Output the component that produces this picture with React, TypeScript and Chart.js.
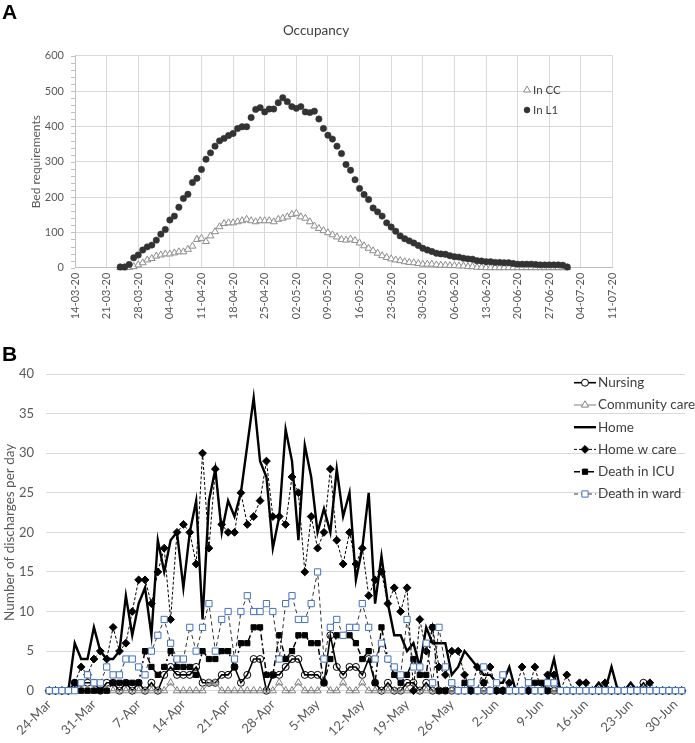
import React, { useEffect, useRef } from "react";
import { Chart, registerables } from "chart.js";
Chart.register(...registerables);

const FONT = "Lato, 'Noto Sans', sans-serif";
const TICK_COLOR = "#595959";
const TEXT_COLOR = "#404040";
const GRID = "#d9d9d9";

// ---------------- Panel A: Occupancy ----------------
const A_TICKS = [
  "14-03-20", "21-03-20", "28-03-20", "04-04-20", "11-04-20", "18-04-20",
  "25-04-20", "02-05-20", "09-05-20", "16-05-20", "23-05-20", "30-05-20",
  "06-06-20", "13-06-20", "20-06-20", "27-06-20", "04-07-20", "11-07-20",
];
// first data day (24-03-20) counted in days from 14-03-20
const A_FIRST_DAY = 10;
const A_IN_L1 = [
  2, 2, 9, 28, 36, 50, 59, 64, 78, 95,
  108, 135, 146, 171, 196, 208, 241, 253, 278, 307,
  325, 344, 359, 366, 374, 380, 394, 399, 399, 425,
  448, 453, 441, 449, 449, 467, 481, 470, 456, 451,
  456, 441, 439, 443, 421, 394, 375, 364, 344, 323,
  292, 276, 249, 224, 207, 193, 169, 158, 146, 127,
  115, 103, 90, 82, 76, 70, 63, 55, 50, 46,
  41, 39, 38, 34, 31, 30, 27, 25, 24, 20,
  19, 17, 17, 15, 15, 14, 14, 12, 10, 10,
  10, 10, 9, 8, 8, 8, 8, 8, 7, 2,
];
const A_IN_CC = [
  0, 0, 1, 3, 8, 14, 22, 26, 33, 36,
  39, 39, 42, 45, 45, 52, 61, 80, 83, 74,
  90, 102, 116, 125, 127, 127, 130, 133, 137, 133,
  130, 133, 133, 133, 130, 137, 140, 144, 151, 154,
  144, 140, 130, 118, 111, 105, 99, 93, 87, 80,
  78, 81, 77, 70, 62, 55, 48, 41, 34, 29,
  25, 22, 20, 17, 15, 14, 12, 10, 10, 10,
  8, 7, 7, 6, 6, 5, 5, 3, 3, 1,
  1, 0, 0, 0, 0, 0, 0, 0, 0, 0,
  0, 0, 0, 0, 0, 0, 0, 0, 0, 0,
];

// ---------------- Panel B: discharges ----------------
const B_DAYS = [
  "24-Mar", "25-Mar", "26-Mar", "27-Mar", "28-Mar", "29-Mar", "30-Mar", "31-Mar",
  "1-Apr", "2-Apr", "3-Apr", "4-Apr", "5-Apr", "6-Apr", "7-Apr", "8-Apr", "9-Apr", "10-Apr",
  "11-Apr", "12-Apr", "13-Apr", "14-Apr", "15-Apr", "16-Apr", "17-Apr", "18-Apr", "19-Apr", "20-Apr",
  "21-Apr", "22-Apr", "23-Apr", "24-Apr", "25-Apr", "26-Apr", "27-Apr", "28-Apr", "29-Apr", "30-Apr",
  "1-May", "2-May", "3-May", "4-May", "5-May", "6-May", "7-May", "8-May", "9-May", "10-May",
  "11-May", "12-May", "13-May", "14-May", "15-May", "16-May", "17-May", "18-May", "19-May", "20-May",
  "21-May", "22-May", "23-May", "24-May", "25-May", "26-May", "27-May", "28-May", "29-May", "30-May", "31-May",
  "1-Jun", "2-Jun", "3-Jun", "4-Jun", "5-Jun", "6-Jun", "7-Jun", "8-Jun", "9-Jun", "10-Jun",
  "11-Jun", "12-Jun", "13-Jun", "14-Jun", "15-Jun", "16-Jun", "17-Jun", "18-Jun", "19-Jun", "20-Jun",
  "21-Jun", "22-Jun", "23-Jun", "24-Jun", "25-Jun", "26-Jun", "27-Jun", "28-Jun", "29-Jun", "30-Jun",
  "1-Jul",
];
const B_TICKS = [
  "24-Mar", "31-Mar", "7-Apr", "14-Apr", "21-Apr", "28-Apr", "5-May", "12-May",
  "19-May", "26-May", "2-Jun", "9-Jun", "16-Jun", "23-Jun", "30-Jun",
];
const B_NURSING = [
  0, 0, 0, 0, 1, 1, 1, 1, 0, 1,
  1, 0, 1, 0, 1, 0, 1, 0, 2, 3,
  2, 2, 2, 3, 1, 1, 1, 2, 2, 3,
  1, 2, 4, 4, 0, 2, 2, 3, 4, 4,
  2, 2, 2, 1, 7, 3, 2, 3, 3, 2,
  4, 1, 0, 1, 0, 0, 1, 1, 0, 1,
  0, 0, 0, 0, 0, 0, 0, 0, 0, 0,
  0, 0, 0, 0, 0, 0, 0, 0, 0, 0,
  0, 0, 0, 0, 0, 0, 0, 0, 0, 0,
  0, 0, 0, 1, 0, 0, 0, 0, 0, 0,
];
const B_COMMUNITY = [
  0, 0, 0, 0, 0, 0, 0, 0, 0, 0,
  0, 0, 0, 0, 0, 0, 0, 0, 0, 1,
  0, 0, 0, 0, 0, 1, 1, 0, 0, 0,
  0, 0, 0, 0, 0, 0, 1, 0, 0, 1,
  0, 0, 0, 1, 0, 0, 1, 0, 0, 1,
  0, 0, 0, 0, 0, 0, 0, 0, 0, 0,
  0, 0, 0, 0, 0, 0, 0, 0, 0, 0,
  0, 0, 0, 0, 0, 0, 0, 0, 0, 0,
  0, 0, 0, 0, 0, 0, 0, 0, 0, 0,
  0, 0, 0, 0, 0, 0, 0, 0, 0, 0,
];
const B_HOME = [
  0, 0, 0, 0, 6, 4, 4, 8, 5, 4,
  4, 5, 12, 7, 11, 13, 7, 19, 15, 19,
  20, 13, 20, 24, 9, 24, 28, 20, 24, 22,
  25, 31, 37, 29, 27, 18, 22, 33, 29, 19,
  31, 27, 20, 23, 20, 28, 22, 25, 14, 18,
  25, 11, 17, 11, 7, 7, 5, 6, 3, 8,
  6, 6, 6, 2, 3, 5, 4, 3, 2, 2,
  1, 1, 3, 0, 0, 0, 0, 0, 1, 4,
  0, 0, 0, 0, 0, 0, 1, 0, 3, 0,
  0, 1, 0, 0, 0, 0, 0, 0, 0, 0,
];
const B_HOME_CARE = [
  0, 0, 0, 0, 1, 3, 2, 4, 5, 4,
  8, 5, 6, 10, 14, 14, 11, 15, 18, 9,
  20, 21, 20, 16, 30, 18, 28, 21, 20, 20,
  25, 21, 22, 24, 29, 22, 22, 21, 27, 25,
  15, 22, 18, 20, 28, 19, 16, 20, 16, 18,
  12, 14, 15, 11, 13, 10, 13, 0, 9, 5,
  8, 3, 2, 5, 5, 2, 0, 3, 1, 3,
  0, 0, 1, 0, 3, 0, 3, 0, 2, 2,
  0, 2, 0, 1, 1, 0, 0, 1, 0, 0,
  0, 0, 0, 0, 1, 0, 0, 0, 0, 0,
];
const B_DEATH_ICU = [
  0, 0, 0, 0, 1, 0, 0, 0, 0, 0,
  1, 1, 1, 1, 1, 5, 3, 2, 3, 5,
  3, 3, 3, 2, 5, 4, 4, 5, 5, 3,
  6, 6, 8, 8, 2, 2, 7, 4, 5, 7,
  7, 6, 6, 1, 4, 7, 7, 7, 6, 4,
  5, 1, 8, 4, 2, 1, 2, 4, 2, 2,
  8, 0, 0, 1, 0, 1, 0, 0, 1, 0,
  0, 0, 0, 0, 0, 1, 1, 1, 0, 1,
  0, 0, 0, 0, 0, 0, 0, 0, 0, 0,
  0, 0, 0, 0, 0, 0, 0, 0, 0, 0,
];
const B_DEATH_WARD = [
  0, 0, 0, 0, 0, 1, 2, 1, 1, 3,
  2, 2, 4, 4, 3, 2, 5, 7, 9, 6,
  4, 4, 8, 5, 8, 11, 5, 9, 10, 4,
  10, 12, 10, 10, 11, 10, 4, 11, 12, 9,
  9, 11, 15, 4, 8, 9, 7, 8, 8, 11,
  8, 4, 6, 4, 3, 2, 9, 3, 3, 6,
  1, 8, 3, 1, 0, 0, 1, 0, 3, 0,
  1, 2, 0, 0, 0, 1, 0, 0, 1, 1,
  0, 0, 0, 0, 0, 0, 0, 0, 0, 0,
  0, 0, 0, 0, 0, 0, 0, 0, 0, 0,
];

type Series = {
  label: string;
  data: number[];
  line: string;
  width: number;
  dash: number[];
  marker: string | false;
  radius: number;
  fill: string;
  stroke: string;
};

const B_SERIES: Series[] = [
  { label: "Nursing", data: B_NURSING, line: "#000", width: 1.6, dash: [], marker: "circle", radius: 3.5, fill: "rgba(0,0,0,0)", stroke: "#000" },
  { label: "Community care", data: B_COMMUNITY, line: "#808080", width: 1, dash: [], marker: "triangle", radius: 4.2, fill: "rgba(0,0,0,0)", stroke: "#808080" },
  { label: "Home", data: B_HOME, line: "#000", width: 2.4, dash: [], marker: false, radius: 0, fill: "#000", stroke: "#000" },
  { label: "Home w care", data: B_HOME_CARE, line: "#000", width: 1, dash: [3, 2], marker: "rectRot", radius: 3.9, fill: "#000", stroke: "#000" },
  { label: "Death in ICU", data: B_DEATH_ICU, line: "#000", width: 1.5, dash: [6, 3, 2, 3], marker: "rect", radius: 3.7, fill: "#000", stroke: "#000" },
  { label: "Death in ward", data: B_DEATH_WARD, line: "#333", width: 1, dash: [4, 3], marker: "rect", radius: 4.4, fill: "#fff", stroke: "#4472c4" },
];

function drawMarker(ctx: CanvasRenderingContext2D, style: string, x: number, y: number, r: number, fill: string, stroke: string, lw: number) {
  ctx.save();
  ctx.setLineDash([]);
  ctx.fillStyle = fill;
  ctx.strokeStyle = stroke;
  ctx.lineWidth = lw;
  ctx.beginPath();
  if (style === "circle") {
    ctx.arc(x, y, r, 0, Math.PI * 2);
  } else if (style === "triangle") {
    let rad = 0;
    ctx.moveTo(x + Math.sin(rad) * r, y - Math.cos(rad) * r);
    rad += (2 * Math.PI) / 3;
    ctx.lineTo(x + Math.sin(rad) * r, y - Math.cos(rad) * r);
    rad += (2 * Math.PI) / 3;
    ctx.lineTo(x + Math.sin(rad) * r, y - Math.cos(rad) * r);
    ctx.closePath();
  } else if (style === "rectRot") {
    ctx.moveTo(x, y - r);
    ctx.lineTo(x + r, y);
    ctx.lineTo(x, y + r);
    ctx.lineTo(x - r, y);
    ctx.closePath();
  } else if (style === "rect") {
    const s = r * Math.SQRT1_2;
    ctx.rect(x - s, y - s, 2 * s, 2 * s);
  }
  ctx.fill();
  ctx.stroke();
  ctx.restore();
}

const panelAText = {
  id: "panelAText",
  afterDraw(chart: any) {
    const ctx: CanvasRenderingContext2D = chart.ctx;
    const ca = chart.chartArea;
    const ys = chart.scales.y;
    ctx.save();
    ctx.strokeStyle = "#bfbfbf";
    ctx.lineWidth = 1;
    for (let v = 0; v <= 600; v += 20) {
      const py = Math.round(ys.getPixelForValue(v)) + 0.5;
      ctx.beginPath();
      ctx.moveTo(ca.left - 4, py);
      ctx.lineTo(ca.left, py);
      ctx.stroke();
    }
    ctx.fillStyle = "#000";
    ctx.font = "bold 21px 'Liberation Sans', Arial, sans-serif";
    ctx.textAlign = "left";
    ctx.textBaseline = "alphabetic";
    ctx.fillText("A", 2, 18.5);

    ctx.fillStyle = TEXT_COLOR;
    ctx.font = `13.5px ${FONT}`;
    ctx.textAlign = "center";
    ctx.textBaseline = "middle";
    ctx.fillText("Occupancy", 316, 31);

    ctx.save();
    ctx.translate(36, (ca.top + ca.bottom) / 2);
    ctx.rotate(-Math.PI / 2);
    ctx.fillStyle = TICK_COLOR;
    ctx.font = `12px ${FONT}`;
    ctx.fillText("Bed requirements", 0, 0);
    ctx.restore();

    drawMarker(ctx, "triangle", 527, 90, 4, "#fff", "#8c8c8c", 1);
    drawMarker(ctx, "circle", 527, 110, 3, "#333", "#333", 0.5);
    ctx.fillStyle = TEXT_COLOR;
    ctx.font = `11.5px ${FONT}`;
    ctx.textAlign = "left";
    ctx.textBaseline = "middle";
    ctx.fillText("In CC", 533, 90);
    ctx.fillText("In L1", 533, 110);
    ctx.restore();
  },
};

const LEGEND_B_Y = [42.7, 65, 87.2, 109.4, 131.7, 154];

const panelBText = {
  id: "panelBText",
  afterDraw(chart: any) {
    const ctx: CanvasRenderingContext2D = chart.ctx;
    const ca = chart.chartArea;
    ctx.save();
    ctx.fillStyle = "#000";
    ctx.font = "bold 21px 'Liberation Sans', Arial, sans-serif";
    ctx.textAlign = "left";
    ctx.textBaseline = "alphabetic";
    ctx.fillText("B", 2, 20.5);

    ctx.save();
    ctx.translate(10, (ca.top + ca.bottom) / 2);
    ctx.rotate(-Math.PI / 2);
    ctx.fillStyle = TICK_COLOR;
    ctx.font = `13.5px ${FONT}`;
    ctx.textAlign = "center";
    ctx.textBaseline = "middle";
    ctx.fillText("Number of discharges per day", 0, 0);
    ctx.restore();

    B_SERIES.forEach((s, i) => {
      const y = LEGEND_B_Y[i];
      ctx.save();
      ctx.strokeStyle = s.line;
      ctx.lineWidth = s.width;
      ctx.setLineDash(s.dash);
      ctx.beginPath();
      ctx.moveTo(574, y);
      ctx.lineTo(596, y);
      ctx.stroke();
      ctx.restore();
      if (s.marker) drawMarker(ctx, s.marker, 585, y, s.radius, s.fill === "rgba(0,0,0,0)" ? "#fff" : s.fill, s.stroke, 1);
      ctx.fillStyle = TEXT_COLOR;
      ctx.font = `13.5px ${FONT}`;
      ctx.textAlign = "left";
      ctx.textBaseline = "middle";
      ctx.fillText(s.label, 598, y);
    });
    ctx.restore();
  },
};

export default function App() {
  const refA = useRef<HTMLCanvasElement>(null);
  const refB = useRef<HTMLCanvasElement>(null);

  useEffect(() => {
    const chartA = new Chart(refA.current as HTMLCanvasElement, {
      type: "scatter",
      data: {
        datasets: [
          {
            label: "In L1",
            data: A_IN_L1.map((v, i) => ({ x: A_FIRST_DAY + i, y: v })),
            pointStyle: "circle",
            pointRadius: 3.2,
            pointBackgroundColor: "#333",
            pointBorderColor: "#333",
            pointBorderWidth: 0.5,
            showLine: false,
            clip: false,
          } as any,
          {
            label: "In CC",
            data: A_IN_CC.map((v, i) => ({ x: A_FIRST_DAY + i, y: v })),
            pointStyle: "triangle",
            pointRadius: 4,
            pointBackgroundColor: "#fff",
            pointBorderColor: "#8c8c8c",
            pointBorderWidth: 1,
            showLine: false,
            clip: false,
          } as any,
        ],
      },
      options: {
        responsive: false,
        animation: false,
        events: [],
        layout: { padding: { left: 0, right: 82.5, top: 55.7, bottom: 0 } },
        plugins: { legend: { display: false }, tooltip: { enabled: false }, title: { display: false } },
        scales: {
          x: {
            type: "linear",
            min: 0,
            max: 119,
            afterFit: (s: any) => { s.height = 72.3; },
            grid: { color: GRID, drawTicks: false },
            border: { color: "#bfbfbf" },
            ticks: {
              stepSize: 7,
              autoSkip: false,
              maxRotation: 90,
              minRotation: 90,
              padding: 5,
              color: TICK_COLOR,
              font: { family: FONT, size: 11 },
              callback: (v: any) => A_TICKS[Math.round(Number(v) / 7)] ?? "",
            },
          },
          y: {
            min: 0,
            max: 600,
            afterFit: (s: any) => { s.width = 75; },
            grid: { color: GRID, drawTicks: false },
            border: { color: "#bfbfbf" },
            ticks: { stepSize: 100, padding: 11, color: TICK_COLOR, font: { family: FONT, size: 11 } },
          },
        },
      } as any,
      plugins: [panelAText],
    });

    const chartB = new Chart(refB.current as HTMLCanvasElement, {
      type: "line",
      data: {
        labels: B_DAYS,
        datasets: B_SERIES.map((s, i) => ({
          label: s.label,
          data: s.data,
          borderColor: s.line,
          borderWidth: s.width,
          borderDash: s.dash,
          fill: false,
          tension: 0,
          pointStyle: s.marker || "circle",
          pointRadius: s.marker ? s.radius : 0,
          pointBackgroundColor: s.fill,
          pointBorderColor: s.stroke,
          pointBorderWidth: 1,
          order: B_SERIES.length - 1 - i,
          clip: false,
        })) as any,
      },
      options: {
        responsive: false,
        animation: false,
        events: [],
        layout: { padding: { left: 0, right: 10, top: 34, bottom: 0 } },
        plugins: { legend: { display: false }, tooltip: { enabled: false }, title: { display: false } },
        scales: {
          x: {
            type: "category",
            offset: true,
            afterFit: (s: any) => { s.height = 52.3; },
            grid: { display: false, drawTicks: false },
            border: { display: true, color: GRID },
            ticks: {
              autoSkip: false,
              maxRotation: 45,
              minRotation: 45,
              padding: 6,
              color: TICK_COLOR,
              font: { family: FONT, size: 13 },
              callback: (_v: any, i: number) => (i % 7 === 0 ? B_TICKS[i / 7] : null),
            },
          },
          y: {
            min: 0,
            max: 40,
            afterFit: (s: any) => { s.width = 46; },
            grid: { color: GRID, drawTicks: false },
            border: { display: false },
            ticks: { stepSize: 5, padding: 12, color: TICK_COLOR, font: { family: FONT, size: 13 } },
          },
        },
      } as any,
      plugins: [panelBText],
    });

    return () => {
      chartA.destroy();
      chartB.destroy();
    };
  }, []);

  return (
    <div style={{ position: "absolute", left: 0, top: 0, width: 695, height: 743, background: "#fff" }}>
      <canvas ref={refA} width={695} height={340} style={{ position: "absolute", left: 0, top: 0, width: 695, height: 340 }} />
      <canvas ref={refB} width={695} height={403} style={{ position: "absolute", left: 0, top: 340, width: 695, height: 403 }} />
    </div>
  );
}
